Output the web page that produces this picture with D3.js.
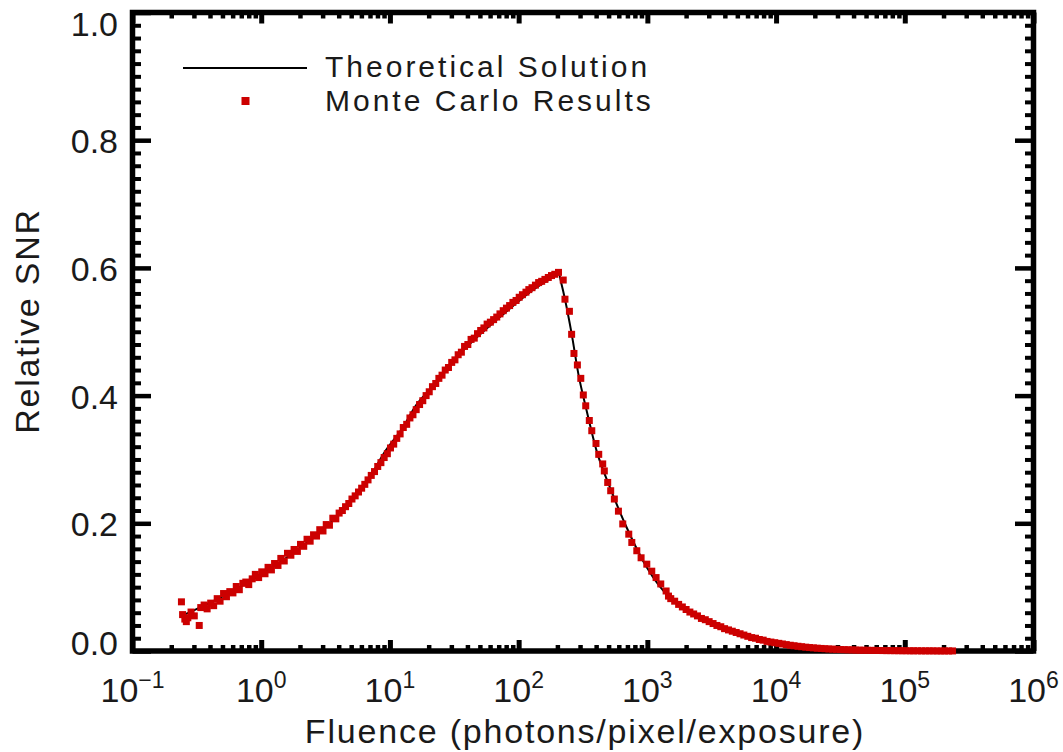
<!DOCTYPE html>
<html><head><meta charset="utf-8">
<script src="https://cdn.jsdelivr.net/npm/d3@7"></script>
<style>
body{margin:0;background:#fff}
text{font-family:"Liberation Sans",Arial,sans-serif;fill:#1a1a1a}
</style>
</head><body>
<svg id="c" width="1063" height="752"></svg>
<script>
// ---------- data ----------
const theoryFluence = [0.24,0.35,0.5,0.64,1.0,1.5,2.11,3.0,3.84,5.0,6.97,9.0,12.6,16,21.7,30,39.4,55,71.5,100,130,170,205,215,229,258,291,338,404,513,692,989,1500,2000,2900,4000,5260,7000,9550,15000,23400,57300,240000];
const theorySNR     = [0.055,0.070,0.085,0.097,0.120,0.143,0.165,0.190,0.210,0.237,0.272,0.310,0.350,0.385,0.415,0.452,0.476,0.503,0.523,0.548,0.566,0.581,0.591,0.575,0.551,0.497,0.434,0.376,0.313,0.256,0.193,0.131,0.083,0.065,0.047,0.034,0.026,0.018,0.013,0.008,0.004,0.0015,0.0003];

const mcFluence = [0.240,0.245,0.255,0.262,0.269,0.285,0.302,0.330,0.339,0.360,0.380,0.405,0.427,0.455,0.479,0.510,0.537,0.570,0.603,0.640,0.676,0.720,0.759,0.800,0.851,0.900,0.955,
1.01,1.07,1.13,1.20,1.27,1.35,1.42,1.51,1.60,1.70,1.80,1.91,2.02,2.14,2.27,2.40,2.55,2.69,2.85,3.02,3.20,3.39,3.60,3.80,4.03,4.27,4.52,4.79,5.07,5.37,5.70,6.03,6.38,6.76,7.16,7.59,8.04,8.51,9.02,9.55,
10.1,10.7,11.3,12.0,12.7,13.5,14.3,15.1,16.0,17.0,18.0,19.1,20.2,21.4,22.7,24.0,25.4,26.9,28.5,30.2,32.0,33.9,35.9,38.0,40.3,42.7,45.2,47.9,50.7,53.7,56.9,60.3,63.9,67.6,71.6,75.9,80.4,85.1,90.2,95.5,
101,107,114,120,127,135,143,151,160,170,180,191,204,
222,229,248,258,269,286,304,318,332,354,370,399,419,450,463,492,519,554,596,644,717,757,828,894,990,
1082,1169,1271,1399,1459,1520,1630,1750,1870,2000,2140,2290,2450,2630,2820,3020,3240,3470,3720,3980,4270,4570,4900,5250,5620,6030,6460,6920,7410,7940,8510,9120,9770,
10500,11200,12000,12900,13800,14800,15800,17000,18200,19500,20900,22400,24000,25700,27500,29500,31600,33900,36300,38900,41700,44700,47900,51300,55000,58900,63100,67600,72400,77600,83200,89100,95500,
102000,110000,117000,126000,135000,145000,155000,166000,178000,191000,204000,219000,235000];
const mcSNR = [0.077,0.057,0.050,0.046,0.052,0.061,0.055,0.040,0.068,0.072,0.066,0.075,0.071,0.082,0.078,0.090,0.085,0.093,0.091,0.101,0.096,0.106,0.108,0.104,0.113,0.120,0.115,
0.124,0.121,0.131,0.127,0.137,0.134,0.145,0.141,0.153,0.150,0.159,0.156,0.167,0.164,0.175,0.172,0.182,0.180,0.190,0.188,0.198,0.197,0.208,0.207,0.216,0.220,0.226,0.231,0.238,0.243,0.249,0.255,0.261,0.268,0.275,0.281,0.289,0.295,0.303,0.309,
0.318,0.324,0.333,0.340,0.350,0.355,0.365,0.370,0.378,0.386,0.392,0.400,0.406,0.414,0.419,0.427,0.432,0.440,0.444,0.452,0.456,0.464,0.468,0.477,0.480,0.488,0.490,0.497,0.502,0.506,0.512,0.515,0.519,0.523,0.528,0.533,0.537,0.541,0.546,0.549,
0.554,0.558,0.562,0.566,0.569,0.573,0.577,0.579,0.582,0.585,0.588,0.590,0.593,
0.581,0.551,0.532,0.496,0.466,0.448,0.427,0.401,0.384,0.361,0.345,0.325,0.308,0.293,0.282,0.264,0.251,0.238,0.219,0.199,0.183,0.170,0.157,0.146,0.136,
0.125,0.115,0.105,0.094,0.086,0.082,0.078,0.073,0.069,0.065,0.061,0.058,0.055,0.051,0.049,0.046,0.043,0.040,0.038,0.035,0.033,0.031,0.029,0.027,0.025,0.023,0.021,0.020,0.018,0.017,0.015,0.014,0.013,
0.012,0.011,0.010,0.0090,0.0082,0.0074,0.0067,0.0060,0.0054,0.0049,0.0044,0.0040,0.0036,0.0032,0.0029,0.0026,0.0023,0.0021,0.0019,0.0017,0.0015,0.0013,0.0012,0.0011,0.0010,0.0009,0.0008,0.0007,0.0006,0.0006,0.0005,0.0005,0.0004,
0.0004,0.0003,0.0003,0.0003,0.0002,0.0002,0.0002,0.0002,0.0001,0.0001,0.0001,0.0001,0.0001];

const xMajorExponents = [-1,0,1,2,3,4,5,6];
const yMajorTicks = [0,0.2,0.4,0.6,0.8,1.0];
const yTickLabels = ["0.0","0.2","0.4","0.6","0.8","1.0"];
const legendLabels = ["Theoretical Solution","Monte Carlo Results"];
const xTitle = "Fluence (photons/pixel/exposure)";
const yTitle = "Relative SNR";

// ---------- layout ----------
const L = 132.5, R = 1033.5, T = 12.5, B = 651;
const RED = "#cc0000";
const svg = d3.select("#c");
const x = d3.scaleLog().domain([0.1, 1e6]).range([L, R]);
const y = d3.scaleLinear().domain([0, 1]).range([B, T]);

const xAll = x.ticks();
const xMajor = xMajorExponents.map(e => Math.pow(10, e));
const xMinor = xAll.filter(v => Math.abs(Math.log10(v) - Math.round(Math.log10(v))) > 1e-6);
const yMinor = y.ticks(50).filter(v => !yMajorTicks.some(m => Math.abs(m - v) < 1e-9));

function styleAxis(g, w) {
  g.select(".domain").remove();
  g.selectAll("line").attr("stroke", "#000").attr("stroke-width", w);
}
svg.append("g").attr("transform", `translate(0,${B})`)
  .call(d3.axisBottom(x).tickValues(xMinor).tickSize(-6).tickFormat(""))
  .call(g => styleAxis(g, 4.5));
svg.append("g").attr("transform", `translate(0,${B})`)
  .call(d3.axisBottom(x).tickValues(xMajor).tickSize(-11).tickFormat(""))
  .call(g => styleAxis(g, 5));
svg.append("g").attr("transform", `translate(0,${T})`)
  .call(d3.axisTop(x).tickValues(xMinor).tickSize(-6).tickFormat(""))
  .call(g => styleAxis(g, 4.5));
svg.append("g").attr("transform", `translate(0,${T})`)
  .call(d3.axisTop(x).tickValues(xMajor).tickSize(-11).tickFormat(""))
  .call(g => styleAxis(g, 5));
svg.append("g").attr("transform", `translate(${L},0)`)
  .call(d3.axisLeft(y).tickValues(yMinor).tickSize(-8.5).tickFormat(""))
  .call(g => styleAxis(g, 4));
svg.append("g").attr("transform", `translate(${L},0)`)
  .call(d3.axisLeft(y).tickValues(yMajorTicks).tickSize(-18.5).tickFormat(""))
  .call(g => styleAxis(g, 4.5));
svg.append("g").attr("transform", `translate(${R},0)`)
  .call(d3.axisRight(y).tickValues(yMinor).tickSize(-8.5).tickFormat(""))
  .call(g => styleAxis(g, 4));
svg.append("g").attr("transform", `translate(${R},0)`)
  .call(d3.axisRight(y).tickValues(yMajorTicks).tickSize(-18.5).tickFormat(""))
  .call(g => styleAxis(g, 4.5));

svg.append("rect").attr("x", L).attr("y", T).attr("width", R - L).attr("height", B - T)
  .attr("fill", "none").attr("stroke", "#000").attr("stroke-width", 5.5);

xMajorExponents.forEach(e => {
  const t = svg.append("text").attr("x", x(Math.pow(10, e))).attr("y", 702)
    .attr("text-anchor", "middle").attr("font-size", 34);
  t.append("tspan").text("10");
  t.append("tspan").attr("font-size", 23).attr("dy", -14).text(e < 0 ? "\u2212" + (-e) : String(e));
});
yMajorTicks.forEach((v, i) => {
  let off = 13;
  if (i === yMajorTicks.length - 1) off = 23;
  if (i === 0) off = 3.5;
  svg.append("text").attr("x", 118).attr("y", y(v) + off)
    .attr("text-anchor", "end").attr("font-size", 34).text(yTickLabels[i]);
});
svg.append("text").attr("x", (L + R) / 2 + 2).attr("y", 743).attr("text-anchor", "middle")
  .attr("font-size", 34).attr("letter-spacing", 1.8).text(xTitle);
svg.append("text").attr("transform", "translate(39,321) rotate(-90)").attr("text-anchor", "middle")
  .attr("font-size", 34).attr("letter-spacing", 1.8).text(yTitle);

const theory = theoryFluence.map((f, i) => ({ f, s: theorySNR[i] }));
svg.append("path").datum(theory)
  .attr("d", d3.line().x(d => x(d.f)).y(d => y(d.s)).curve(d3.curveMonotoneX))
  .attr("fill", "none").attr("stroke", "#000").attr("stroke-width", 2);

const mc = mcFluence.map((f, i) => ({ f, s: mcSNR[i] }));
const ms = 7;
svg.append("g").selectAll("rect").data(mc).join("rect")
  .attr("x", d => x(d.f) - ms / 2).attr("y", d => y(d.s) - ms / 2)
  .attr("width", ms).attr("height", ms).attr("fill", RED);

// legend
svg.append("line").attr("x1", 183).attr("x2", 307).attr("y1", 68).attr("y2", 68)
  .attr("stroke", "#000").attr("stroke-width", 2);
svg.append("rect").attr("x", 245.5 - 4).attr("y", 101 - 4).attr("width", 8).attr("height", 8).attr("fill", RED);
svg.append("text").attr("x", 325).attr("y", 77).attr("font-size", 30).attr("letter-spacing", 3).text(legendLabels[0]);
svg.append("text").attr("x", 325).attr("y", 111).attr("font-size", 30).attr("letter-spacing", 3).text(legendLabels[1]);
</script>
</body></html>
